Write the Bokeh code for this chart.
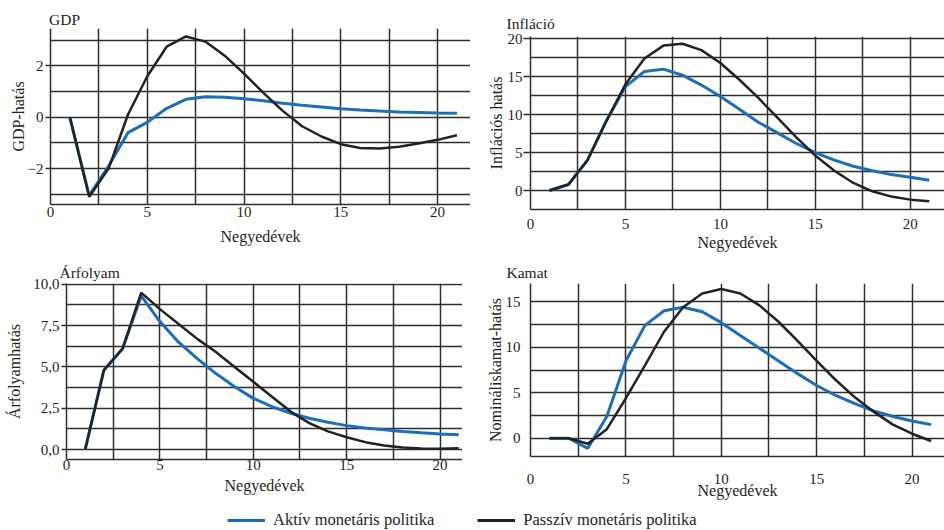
from bokeh.plotting import figure
from bokeh.models import FixedTicker, Range1d, Legend, LegendItem
from bokeh.layouts import column, row
from bokeh.embed import file_html
from bokeh.resources import INLINE

# ---------------- data ----------------
quarters = list(range(1, 22))

gdp_aktiv = [0, -3.05, -1.9, -0.6, -0.2, 0.35, 0.7, 0.8, 0.78, 0.72, 0.64, 0.55,
             0.47, 0.4, 0.33, 0.28, 0.24, 0.21, 0.19, 0.17, 0.16]
gdp_passziv = [0, -3.1, -2.0, 0.1, 1.6, 2.75, 3.15, 2.95, 2.4, 1.7, 0.95, 0.25,
               -0.35, -0.75, -1.05, -1.2, -1.22, -1.15, -1.02, -0.88, -0.7]

inf_aktiv = [0, 0.8, 4.0, 9.2, 13.7, 15.7, 16.0, 15.2, 13.9, 12.4, 10.7, 9.0,
             7.6, 6.2, 5.0, 4.0, 3.2, 2.6, 2.1, 1.75, 1.35]
inf_passziv = [0, 0.8, 4.0, 9.2, 14.0, 17.4, 19.1, 19.35, 18.5, 16.8, 14.6, 12.2,
               9.6, 7.0, 4.6, 2.6, 1.0, -0.1, -0.8, -1.2, -1.4]

arf_aktiv = [0, 4.8, 6.1, 9.3, 7.75, 6.5, 5.5, 4.6, 3.8, 3.1, 2.6, 2.2,
             1.9, 1.65, 1.45, 1.3, 1.2, 1.1, 1.02, 0.95, 0.9]
arf_passziv = [0, 4.8, 6.1, 9.5, 8.5, 7.6, 6.7, 5.9, 5.0, 4.1, 3.2, 2.3,
               1.6, 1.1, 0.75, 0.45, 0.25, 0.12, 0.06, 0.05, 0.08]

kamat_aktiv = [0, 0, -1.1, 2.4, 8.5, 12.4, 14.0, 14.4, 13.9, 12.7, 11.3, 9.9,
               8.5, 7.1, 5.8, 4.7, 3.8, 3.0, 2.4, 1.9, 1.5]
kamat_passziv = [0, 0, -0.6, 1.0, 4.4, 8.0, 11.7, 14.4, 15.9, 16.4, 15.9, 14.6,
                 12.8, 10.7, 8.5, 6.4, 4.5, 2.9, 1.5, 0.5, -0.3]

x_ticks = [0, 5, 10, 15, 20]
x_grid = [2.5, 5, 7.5, 10, 12.5, 15, 17.5, 20]

gdp_yticks = [-2, 0, 2]
gdp_ygrid = [-3, -2, -1, 0, 1, 2, 3]
gdp_ylabels = {-2: "\u22122", 0: "0", 2: "2"}

inf_yticks = [0, 5, 10, 15, 20]
inf_ygrid = [0, 2.5, 5, 7.5, 10, 12.5, 15, 17.5, 20]

arf_yticks = [0, 2.5, 5, 7.5, 10]
arf_ygrid = [0, 1.25, 2.5, 3.75, 5, 6.25, 7.5, 8.75, 10]
arf_ylabels = {0: "0,0", 2.5: "2,5", 5: "5,0", 7.5: "7,5", 10: "10,0"}

kamat_yticks = [0, 5, 10, 15]
kamat_ygrid = [0, 2.5, 5, 7.5, 10, 12.5, 15]

legend_labels = ["Aktív monetáris politika", "Passzív monetáris politika"]

# ---------------- style ----------------
BLUE = "#1b6fba"
BLACK = "#222222"
GRID = "#2d2d2d"
TXT = "#231f20"
FONT = "Liberation Serif"


def panel(title, ylabel, aktiv, passziv, yr, yticks, ygrid, ylabels, x_end,
          width, height, mb, title_offset, title_standoff,
          ytick_out, ytick_standoff, ylabel_standoff,
          xtick_standoff, xlabel_standoff):
    p = figure(width=width, height=height, title=title,
               x_range=Range1d(0, x_end), y_range=Range1d(*yr),
               toolbar_location=None, tools="", output_backend="svg",
               min_border_left=mb[0], min_border_right=mb[1],
               min_border_top=mb[2], min_border_bottom=mb[3])
    p.outline_line_color = None
    p.background_fill_color = "white"
    p.border_fill_color = "white"

    p.title.text_font = FONT
    p.title.text_font_size = "15.5px"
    p.title.text_font_style = "normal"
    p.title.text_color = TXT
    p.title.align = "left"
    p.title.offset = title_offset
    p.title.standoff = title_standoff

    p.xaxis.ticker = FixedTicker(ticks=x_ticks, minor_ticks=[])
    p.yaxis.ticker = FixedTicker(ticks=yticks, minor_ticks=[])
    if ylabels:
        p.yaxis.major_label_overrides = ylabels
    p.xgrid.ticker = FixedTicker(ticks=x_grid, minor_ticks=[])
    p.ygrid.ticker = FixedTicker(ticks=ygrid, minor_ticks=[])
    for g in (p.xgrid, p.ygrid):
        g.grid_line_color = GRID
        g.grid_line_width = 1.5

    for ax in (p.xaxis, p.yaxis):
        ax.axis_line_color = GRID
        ax.axis_line_width = 1.5
        ax.major_tick_line_color = GRID
        ax.major_tick_line_width = 1.5
        ax.major_tick_in = 0
        ax.minor_tick_in = 0
        ax.minor_tick_out = 0
        ax.major_label_text_font = FONT
        ax.major_label_text_font_size = "15px"
        ax.major_label_text_color = TXT
        ax.axis_label_text_font = FONT
        ax.axis_label_text_font_size = "16px"
        ax.axis_label_text_font_style = "normal"
        ax.axis_label_text_color = TXT

    p.xaxis.major_tick_out = 0
    p.xaxis.major_label_standoff = xtick_standoff
    p.xaxis.axis_label = "Negyedévek"
    p.xaxis.axis_label_standoff = xlabel_standoff

    p.yaxis.major_tick_out = ytick_out
    p.yaxis.major_label_standoff = ytick_standoff
    p.yaxis.axis_label = ylabel
    p.yaxis.axis_label_standoff = ylabel_standoff

    p.line(quarters, aktiv, line_color=BLUE, line_width=3)
    p.line(quarters, passziv, line_color=BLACK, line_width=2.5)
    return p


# top row: GDP frame x 50-470, y 28-204 ; Infláció frame x 530-944, y 36-209
p1 = panel("GDP", "GDP-hatás", gdp_aktiv, gdp_passziv, (-3.4, 3.46),
           gdp_yticks, gdp_ygrid, gdp_ylabels, 21.7,
           470, 255, (50, 0, 28, 51), -1.5, 1,
           5, 2, -2, 2, 8)
p2 = panel("Infláció", "Inflációs hatás", inf_aktiv, inf_passziv, (-2.5, 20.3),
           inf_yticks, inf_ygrid, None, 21.8,
           474, 255, (60, 0, 36, 46), -24, 9,
           7, 1, 0, 9, 2)
# bottom row: Árfolyam frame x 66-462, y 283-459 ; Kamat frame x 530-944, y 283-456
p3 = panel("Árfolyam", "Árfolyamhatás", arf_aktiv, arf_passziv, (-0.6, 10.05),
           arf_yticks, arf_ygrid, arf_ylabels, 21.2,
           462, 250, (66, 0, 28, 46), -7, 6,
           5, 2, 7, 0, 4)
p4 = panel("Kamat", "Nominális" + "kamat-hatás", kamat_aktiv, kamat_passziv, (-2, 17),
           kamat_yticks, kamat_ygrid, None, 21.7,
           482, 250, (68, 0, 28, 49), -24, 6,
           0, 10, -1, 17, -5)

# ---------------- legend strip ----------------
lf = figure(width=944, height=25, x_range=Range1d(0, 1), y_range=Range1d(0, 1),
            toolbar_location=None, tools="", output_backend="svg",
            x_axis_type=None, y_axis_type=None,
            min_border_left=0, min_border_right=0, min_border_top=0, min_border_bottom=0)
lf.outline_line_color = None
lf.xgrid.visible = False
lf.ygrid.visible = False
ra = lf.line(x=[-10, -9], y=[-10, -9], line_color=BLUE, line_width=3)
rp = lf.line(x=[-10, -9], y=[-10, -9], line_color=BLACK, line_width=3)
legend = Legend(items=[LegendItem(label=legend_labels[0], renderers=[ra]),
                       LegendItem(label=legend_labels[1], renderers=[rp])],
                orientation="horizontal", location=(227, 0),
                glyph_width=38, glyph_height=18, label_height=18,
                label_standoff=8, spacing=43, padding=0, margin=0,
                border_line_color=None, background_fill_alpha=0,
                label_text_font=FONT, label_text_font_size="16.5px",
                label_text_color=TXT)
lf.add_layout(legend)

layout = column(row(column(p1), column(p2)), row(column(p3), column(p4)), lf)

open("out.html", "w").write(file_html(layout, INLINE))
